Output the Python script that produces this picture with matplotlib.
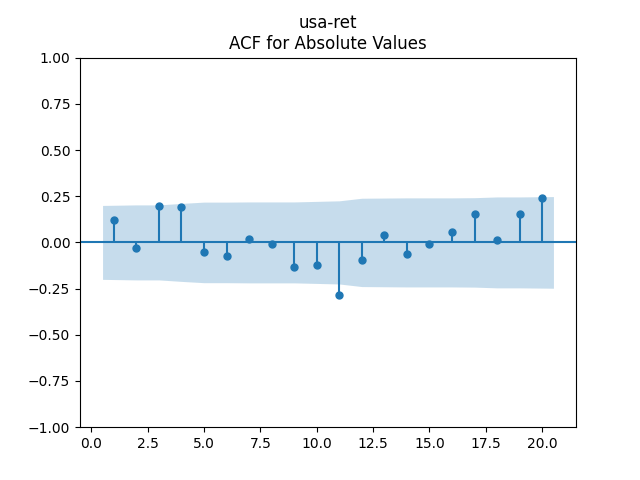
import numpy as np
import matplotlib
matplotlib.use("Agg")
import matplotlib.pyplot as plt

# acf of absolute values, lags 1..20 (lag 0 left out)
lags = [1, 2, 3, 4, 5, 6, 7, 8, 9, 10, 11, 12, 13, 14, 15, 16, 17, 18, 19, 20]
acf_vals = [0.122, -0.030, 0.198, 0.192, -0.051, -0.073, 0.019, -0.008, -0.133, -0.122,
            -0.285, -0.095, 0.041, -0.062, -0.008, 0.057, 0.154, 0.014, 0.154, 0.241]
# half width of the confidence band at each lag
conf_half = [0.200, 0.203, 0.203, 0.211, 0.218, 0.218, 0.219, 0.219, 0.219, 0.222,
             0.225, 0.239, 0.240, 0.241, 0.241, 0.241, 0.242, 0.246, 0.246, 0.248]

fig, ax = plt.subplots(figsize=(6.4, 4.8), dpi=100)

x = np.array(lags, dtype=float)
band_x = x.copy()
band_x[0] -= 0.5
band_x[-1] += 0.5
half = np.array(conf_half)

ax.vlines(x, [0], acf_vals, color="C0")
ax.axhline(0, color="C0")
ax.margins(0.05)
ax.plot(x, acf_vals, marker="o", markersize=5, linestyle="None", color="C0")
ax.fill_between(band_x, -half, half, alpha=0.25, color="C0", linewidth=0)
ax.set_ylim(-1, 1)
ax.set_title("usa-ret\nACF for Absolute Values")

fig.savefig("out.png")
